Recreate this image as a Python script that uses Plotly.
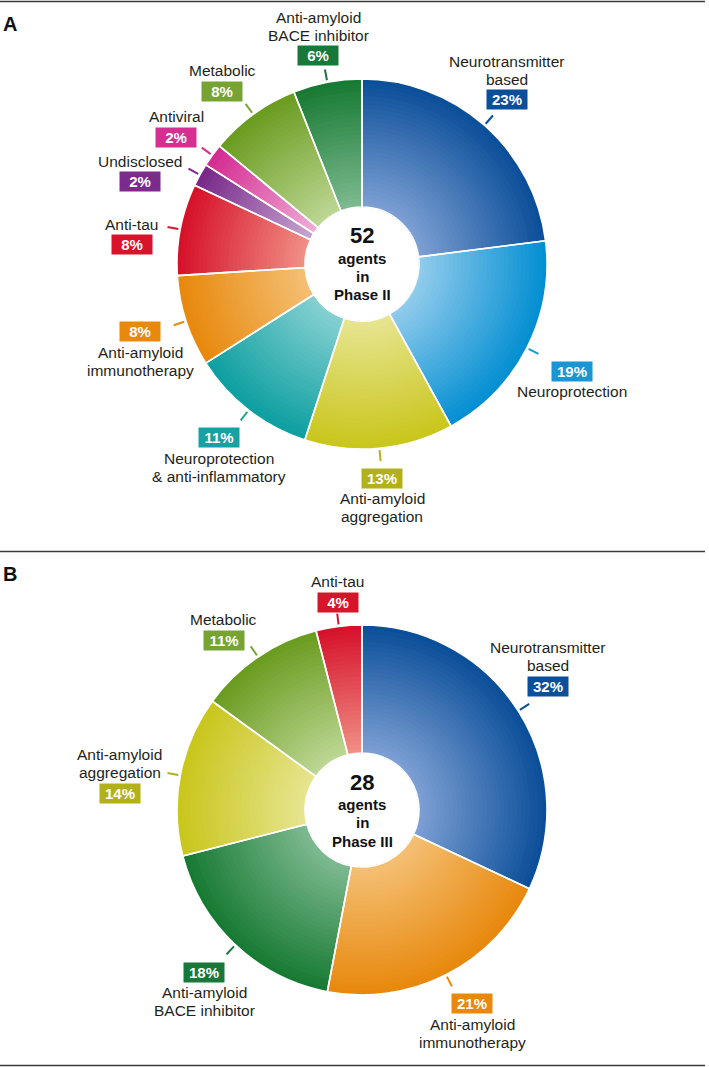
import math
import plotly.graph_objects as go

# ---------------- data ----------------
a_categories = ["Neurotransmitter\nbased", "Neuroprotection", "Anti-amyloid\naggregation",
                "Neuroprotection\n& anti-inflammatory", "Anti-amyloid\nimmunotherapy", "Anti-tau",
                "Undisclosed", "Antiviral", "Metabolic", "Anti-amyloid\nBACE inhibitor"]
a_values = [23, 19, 13, 11, 8, 8, 2, 2, 8, 6]
a_agents = 52
a_phase = "Phase II"

b_categories = ["Neurotransmitter\nbased", "Anti-amyloid\nimmunotherapy", "Anti-amyloid\nBACE inhibitor",
                "Anti-amyloid\naggregation", "Metabolic", "Anti-tau"]
b_values = [32, 21, 18, 14, 11, 4]
b_agents = 28
b_phase = "Phase III"

# ---------------- styles ----------------
# category -> (dark rim colour, light inner colour, label box colour)
palette = {
    "Neurotransmitter based": ("#0b4e99", "#7c9fd3", "#0b4f9a"),
    "Neuroprotection": ("#038fd2", "#90cbec", "#1a96d5"),
    "Anti-amyloid aggregation": ("#c9c61c", "#e6e48f", "#b3b11b"),
    "Neuroprotection & anti-inflammatory": ("#0e9fa1", "#84d0d0", "#18a1a3"),
    "Anti-amyloid immunotherapy": ("#e8880d", "#f4bf72", "#e8890e"),
    "Anti-tau": ("#d6112a", "#f08e84", "#d7142a"),
    "Undisclosed": ("#782888", "#c6a3cf", "#7b2c8b"),
    "Antiviral": ("#d42b91", "#efabd4", "#d52f92"),
    "Metabolic": ("#6a9c20", "#bcd693", "#77a333"),
    "Anti-amyloid BACE inhibitor": ("#177a33", "#7db98f", "#17783a"),
}

# label layout: extra radial distance (px) and angular tweak (deg) of the % box
a_label_gap = [34, 51, 30, 40, 47, 46, 52, 40, 37, 28]
a_label_tweak = [0, 0, 0, 1.6, 1, -6, -8.5, -1.7, -3, -1]
b_label_gap = [38, 38, 41, 58, 34, 24]
b_label_tweak = [-1.3, -2.6, 1, -6.8, -5, 0.6]

W, H = 709, 1067
CX = 362
R = 185
HOLE = 57
N_LAYERS = 30
FONT = "Liberation Sans, Arial, Helvetica, sans-serif"
TXT = "#231f20"


def hex2rgb(h):
    h = h.lstrip("#")
    return tuple(int(h[i:i + 2], 16) for i in (0, 2, 4))


def mix(c1, c2, t):
    a, b = hex2rgb(c1), hex2rgb(c2)
    return "rgb(%d,%d,%d)" % tuple(round(a[i] + (b[i] - a[i]) * t) for i in range(3))


def px(x):
    return x / W


def py(y):
    return 1 - y / H


fig = go.Figure()
shapes = []
annotations = []


def add_panel(cats, vals, agents, phase, cy, gaps, tweaks, letter, letter_y):
    keys = [c.replace("\n", " ") for c in cats]
    darks = [palette[k][0] for k in keys]
    lights = [palette[k][1] for k in keys]
    boxes = [palette[k][2] for k in keys]
    # gradient layers (large -> small)
    for k in range(N_LAYERS):
        r = R - k * (R - HOLE) / N_LAYERS
        t = k / (N_LAYERS - 1)
        fig.add_trace(go.Pie(
            values=vals, labels=keys, sort=False, direction="clockwise", rotation=0,
            hole=HOLE / r,
            domain=dict(x=[px(CX - r), px(CX + r)], y=[py(cy + r), py(cy - r)]),
            marker=dict(colors=[mix(d, l, t) for d, l in zip(darks, lights)], line=dict(width=0)),
            textinfo="none", hoverinfo="skip", showlegend=False))
    # white separators
    fig.add_trace(go.Pie(
        values=vals, labels=keys, sort=False, direction="clockwise", rotation=0,
        hole=HOLE / R,
        domain=dict(x=[px(CX - R), px(CX + R)], y=[py(cy + R), py(cy - R)]),
        marker=dict(colors=["rgba(0,0,0,0)"] * len(vals), line=dict(color="white", width=1.6)),
        textinfo="none", hoverinfo="label+percent", showlegend=False))

    total = sum(vals)
    cum = 0
    for i, (cat, v) in enumerate(zip(cats, vals)):
        mid = (cum + v / 2) / total * 360
        cum += v
        a = math.radians(mid)
        # leader line
        x0, y0 = CX + (R + 2) * math.sin(a), cy - (R + 2) * math.cos(a)
        x1, y1 = CX + (R + 13) * math.sin(a), cy - (R + 13) * math.cos(a)
        shapes.append(dict(type="line", xref="paper", yref="paper",
                           x0=px(x0), y0=py(y0), x1=px(x1), y1=py(y1),
                           line=dict(color=boxes[i], width=2)))
        # percent box
        b = math.radians(mid + tweaks[i])
        bx = CX + (R + gaps[i]) * math.sin(b)
        by = cy - (R + gaps[i]) * math.cos(b)
        annotations.append(dict(x=px(bx), y=py(by), xref="paper", yref="paper",
                                text="<b>%d%%</b>" % v, showarrow=False,
                                xanchor="center", yanchor="middle",
                                bgcolor=boxes[i], width=40, height=19, borderpad=0,
                                font=dict(family=FONT, size=15, color="white")))
        # category name
        lines = cat.split("\n")
        if math.cos(a) > 0:
            ys = [by - 9.5 - 11 - 18 * (len(lines) - 1 - j) for j in range(len(lines))]
        else:
            ys = [by + 9.5 + 11 + 18 * j for j in range(len(lines))]
        for line, ly in zip(lines, ys):
            annotations.append(dict(x=px(bx), y=py(ly), xref="paper", yref="paper",
                                    text=line, showarrow=False, xanchor="center", yanchor="middle",
                                    font=dict(family=FONT, size=15.5, color=TXT)))
    # centre text
    for txt, off, size in [(str(agents), -28, 22), ("agents", -6, 15), ("in", 12, 15), (phase, 31, 15)]:
        annotations.append(dict(x=px(CX), y=py(cy + off), xref="paper", yref="paper",
                                text="<b>%s</b>" % txt, showarrow=False,
                                xanchor="center", yanchor="middle",
                                font=dict(family=FONT, size=size, color="#111111")))
    annotations.append(dict(x=px(1), y=py(letter_y), xref="paper", yref="paper",
                            text="<b>%s</b>" % letter, showarrow=False,
                            xanchor="left", yanchor="middle",
                            font=dict(family=FONT, size=20, color="#111111")))


add_panel(a_categories, a_values, a_agents, a_phase, 264, a_label_gap, a_label_tweak, "A", 24)
add_panel(b_categories, b_values, b_agents, b_phase, 810, b_label_gap, b_label_tweak, "B", 574)

for yline in [1.5, 551.5, 1065.5]:
    shapes.append(dict(type="line", xref="paper", yref="paper",
                       x0=px(0), x1=px(705), y0=py(yline), y1=py(yline),
                       line=dict(color="#3a3a3a", width=1.6)))

fig.update_layout(width=W, height=H, margin=dict(l=0, r=0, t=0, b=0),
                  paper_bgcolor="white", plot_bgcolor="white",
                  shapes=shapes, annotations=annotations, showlegend=False)

fig.write_html("out.html", config={"displayModeBar": False},
               post_script="document.body.style.margin='0';"
                           "document.documentElement.style.overflow='hidden';")
